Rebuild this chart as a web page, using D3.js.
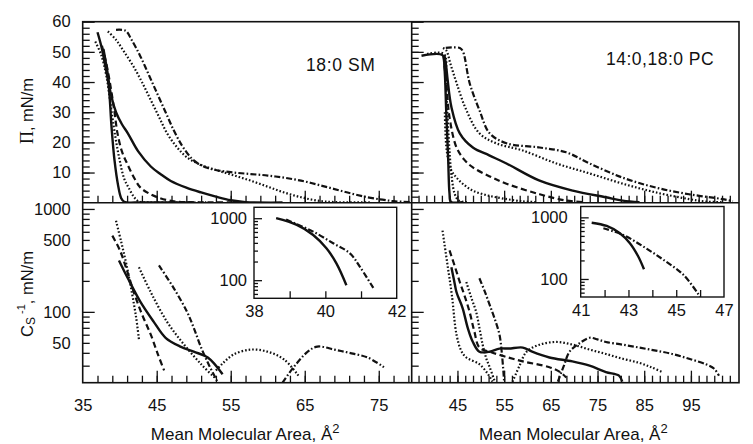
<!DOCTYPE html>
<html>
<head>
<meta charset="utf-8">
<script src="https://cdn.jsdelivr.net/npm/d3@7"></script>
<style>
body { margin: 0; background: #fff; }
svg text { font-family: "Liberation Sans", Arial, sans-serif; fill: #111; }
</style>
</head>
<body>
<script>
// ---- Pi-A isotherms, [area (A^2), Pi (mN/m)] ----
// 18:0 SM
var smSolidSteep = [[37.0,56.5],[37.5,52],[38.0,46],[38.5,39],[38.9,25],[39.3,14],[39.8,5.5],[40.2,1.5],[40.6,0.3],[43,0.1],[50,0.1]];
var smDotSteep = [[36.7,53.4],[37.5,49],[38.2,42],[38.8,32],[39.4,22],[40,14],[40.6,8],[41.2,5],[41.9,2],[42.5,0.5],[44,0.1],[52,0.1]];
var smDashed = [[37.6,52],[38.2,46],[38.8,38],[39.3,30],[39.7,23],[40.3,17],[41,13],[42,8],[42.8,5],[44,3],[45.1,1.8],[46.5,0.8],[48,0.3],[55,0.1]];
var smSolid = [[37.8,51],[38.3,44],[38.8,36],[39.5,30],[40.3,26],[41.1,23],[42.5,17],[44.2,12],[45.5,9.5],[46.9,7.2],[49,5],[51,3.4],[53,2],[55,0.8],[57,0.2],[62,0.05]];
var smDotted = [[38.4,56.8],[39.5,54],[40.6,50],[41.9,45],[43,40],[44.2,34],[45.3,28.5],[46.4,23],[47.7,18.5],[49.1,15],[51,12.5],[53.2,10.7],[55.5,9],[57.7,7.3],[60,5.3],[62.2,3.4],[64.5,1.8],[66.7,0.7],[69,0.2],[74,0.1]];
var smDashDot = [[39.5,57.3],[40.8,57],[41.6,54],[42.8,48.5],[44,42],[45.1,36],[46.2,30],[47.3,24],[48.4,19],[49.6,15],[50.7,12.8],[51.9,11.5],[53.5,10.6],[55.4,10],[57.7,9.5],[60,9],[62.2,8.3],[64.5,7.3],[66.7,6],[68.9,4.6],[71.2,3.1],[73.5,1.8],[75.5,1],[77,0.5],[79.4,0.2]];

// 14:0,18:0 PC
var pcSolidSteep = [[37.3,48.7],[41.8,48.9],[42.2,45],[42.6,30],[43,15],[43.3,3],[43.6,0.3],[46,0.2]];
var pcDotSteep = [[38.5,49.3],[42.1,49.3],[42.5,40],[42.9,28],[43.3,17],[43.8,8],[44.4,3],[45.2,0.8],[47,0.2]];
var pcDotLow = [[42.3,30],[42.7,17.3],[43.6,11],[44.8,8.3],[46.5,5.8],[48.3,4],[50.5,2.8],[53.3,1.8],[58.7,0.5],[62,0.2]];
var pcDashed = [[42,48.5],[42.6,40],[43.3,28.3],[44.8,18.3],[46.5,14.2],[48.3,11.7],[51.8,8.8],[55.5,6.3],[62.6,2.8],[68.3,0.7],[72,0.2]];
var pcSolid = [[42.2,49],[42.6,45],[42.9,40.7],[43.7,31.7],[45.5,23],[48.3,18.3],[51.8,15.7],[55.5,13],[62.6,7.3],[69.7,4],[76.8,1.8],[80.4,0.7],[84,0.2]];
var pcDotted = [[41.9,51.3],[42.6,50.5],[43.5,46],[44.8,39.7],[46.9,30.7],[49.7,23],[53.3,19.7],[59,17.3],[66.2,13],[73.3,9.7],[80.4,6.3],[87.5,3.4],[94.6,1.2],[98,0.4],[102,0.2]];
var pcDashDot = [[42.5,51.3],[45.5,51.3],[46.2,50],[47.6,39.7],[49.7,30.7],[51.9,23],[55.5,19.7],[62.6,18.3],[68.3,16.7],[73.3,13],[80.4,8.3],[87.5,5],[94.6,2.8],[101.7,1.2],[104,0.5]];

// ---- compressibility modulus Cs^-1 (mN/m) ----
var smCsDotSteep = [[39.5,767],[40.2,480],[40.9,290],[41.6,160],[42.2,90],[42.6,54]];
var smCsDashed = [[39,550],[40,400],[41,250],[41.9,155],[43,95],[44.2,60],[45.2,38],[46,27]];
var smCsSolid = [[39.9,316],[41.1,212],[42.8,125],[44.6,80],[46.2,56],[48.2,46],[50,41],[51.9,36],[53.9,24.8]];
var smCsDotted = [[42.6,271],[44.2,155],[46.4,80],[48.7,48],[51,31],[52.8,23]];
var smCsDashDot = [[45.3,283],[47.3,170],[49.1,100],[50,70],[51,45],[52.1,30],[53.2,21]];
var smCsDotHump = [[53,27],[54,32],[55.4,38.6],[57.7,43],[60,41],[62.2,34.5],[64.2,23.7]];
var smCsDashDotHump = [[62,20.5],[63.5,29],[65.4,41],[66.7,46],[69,43],[71,40],[73.5,36],[75.7,29]];

var pcCsDotSteep = [[41.8,615],[42.8,300],[43.8,146],[44.8,60],[45.8,42],[46.9,36],[49.7,31],[51.5,25],[52.5,21]];
var pcCsDashed = [[43.3,395],[44.4,280],[45.5,195],[46.6,140],[47.6,100],[48.6,65],[49.7,45],[51.9,41],[55,37],[59,33],[64.7,29],[67,26],[68.3,23]];
var pcCsSolid = [[43.7,271],[44.3,200],[44.8,155],[46.1,109],[47.2,70],[48.3,51],[49.7,41],[51.9,41],[54,44],[56,44],[59,45],[61,41],[64.7,36],[69.6,33],[73.3,30],[76.8,26],[79.6,24],[80.3,21]];
var pcCsDotted = [[46.9,195],[47.9,140],[49,100],[49.7,70],[50.4,48],[51.2,35],[51.9,29],[53,21]];
var pcCsDashDot = [[49.7,212],[50.8,160],[51.9,117],[53,85],[54,60],[54.5,40],[55,21]];
var pcCsDotHump = [[56.8,21],[58.3,30],[59.8,41],[62.6,48],[66.2,51],[69.7,48],[73.3,43],[76.8,39],[80.4,35],[83.9,32],[86.5,29],[88.9,26]];
var pcCsDashDotHump = [[66.5,21],[67.8,30],[69,41],[71,49],[73.3,56],[75,54],[76.8,51],[80.4,48],[83.9,45],[87.5,42],[91,39],[94.6,35],[98.2,31],[100,28],[101,24]];

// insets (high-pressure region)
var smInsetSolid = [[38.62,1000],[39.2,780],[39.66,537],[40.03,327],[40.31,187],[40.59,83]];
var smInsetDashDot = [[38.9,950],[39.14,830],[39.66,607],[40.22,394],[40.69,271],[40.97,164],[41.35,74]];
var pcInsetSolid = [[41.46,819],[42.09,724],[42.64,552],[43.06,381],[43.41,232],[43.65,144]];
var pcInsetDashDot = [[41.95,665],[42.78,518],[43.62,336],[44.46,205],[45.3,117],[45.99,52]];

// tick labels
var piLabels = [10, 20, 30, 40, 50, 60];
var csLabels = [50, 100, 500, 1000];
var smAreaLabels = [35, 45, 55, 65, 75];
var pcAreaLabels = [45, 55, 65, 75, 85, 95];
var insetCsLabels = [100, 1000];
var smInsetAreaLabels = [38, 40, 42];
var pcInsetAreaLabels = [41, 43, 45, 47];

// ---- layout ----
var W = 753, H = 444;
var L = 82.7, M = 411.7, R = 739, T = 21.7, MID = 202.7, B = 382.7;

var svg = d3.select("body").append("svg").attr("width", W).attr("height", H);
svg.append("rect").attr("width", W).attr("height", H).attr("fill", "#fff");

var xSM = d3.scaleLinear().domain([35, 79.45]).range([L, M]);
var xPC = d3.scaleLinear().domain([35.2, 105.3]).range([M, R]);
var yPi = d3.scaleLinear().domain([0, 60]).range([MID, T]);
var yCs = d3.scaleLog().domain([20.5, 1150]).range([B, MID]);

var dashes = { solid: null, dotted: "1.6,2", dashed: "6,3.5", dashdot: "6,2.2,1.6,2.2" };

var clipN = 0;
function clipRect(x0, y0, x1, y1) {
    var id = "clip" + (clipN++);
    svg.append("clipPath").attr("id", id)
        .append("rect").attr("x", x0).attr("y", y0).attr("width", x1 - x0).attr("height", y1 - y0);
    return "url(#" + id + ")";
}

function drawCurves(x, y, series, clip) {
    var g = svg.append("g").attr("clip-path", clip);
    var line = d3.line()
        .x(function(d) { return x(d[0]); })
        .y(function(d) { return y(d[1]); })
        .curve(d3.curveCatmullRom.alpha(0.5));
    series.forEach(function(s) {
        g.append("path")
            .attr("d", line(s[0]))
            .attr("fill", "none")
            .attr("stroke", "#111")
            .attr("stroke-width", s[1] == "solid" ? 2.4 : 2.2)
            .attr("stroke-dasharray", dashes[s[1]]);
    });
}

// inward tick marks, no labels
function ticks(axisFn, scale, vals, len, tx, ty) {
    var g = svg.append("g")
        .attr("transform", "translate(" + tx + "," + ty + ")")
        .call(axisFn(scale).tickValues(vals).tickSize(len).tickFormat(""));
    g.select(".domain").remove();
    g.selectAll("line").attr("stroke", "#111").attr("stroke-width", 1.3);
}

function labels(axisFn, scale, vals, pad, tx, ty) {
    var g = svg.append("g")
        .attr("transform", "translate(" + tx + "," + ty + ")")
        .call(axisFn(scale).tickValues(vals).tickSize(0).tickPadding(pad).tickFormat(d3.format("d")));
    g.select(".domain").remove();
    g.selectAll("text").attr("font-size", 16.5).attr("font-family", "Liberation Sans, Arial, sans-serif").attr("fill", "#111");
}

// ---- curves ----
drawCurves(xSM, yPi, [
    [smSolidSteep, "solid"], [smDotSteep, "dotted"], [smDashed, "dashed"],
    [smSolid, "solid"], [smDotted, "dotted"], [smDashDot, "dashdot"]
], clipRect(L, T, M, MID));
drawCurves(xPC, yPi, [
    [pcSolidSteep, "solid"], [pcDotSteep, "dotted"], [pcDotLow, "dotted"], [pcDashed, "dashed"],
    [pcSolid, "solid"], [pcDotted, "dotted"], [pcDashDot, "dashdot"]
], clipRect(M, T, R, MID));
drawCurves(xSM, yCs, [
    [smCsDotSteep, "dotted"], [smCsDashed, "dashed"], [smCsSolid, "solid"], [smCsDotted, "dotted"],
    [smCsDashDot, "dashdot"], [smCsDotHump, "dotted"], [smCsDashDotHump, "dashdot"]
], clipRect(L, MID, M, B));
drawCurves(xPC, yCs, [
    [pcCsDotSteep, "dotted"], [pcCsDashed, "dashed"], [pcCsSolid, "solid"], [pcCsDotted, "dotted"],
    [pcCsDashDot, "dashdot"], [pcCsDotHump, "dotted"], [pcCsDashDotHump, "dashdot"]
], clipRect(M, MID, R, B));

// ---- main ticks ----
var smMinor = d3.range(37, 79.4, 2), smMajor = [45, 55, 65, 75];
var pcMinor = d3.range(0, 42).map(function(i) { return 35 + i * 10 / 6; }).filter(function(v) { return v > 35.5 && v < 105; });
var pcMajor = [45, 55, 65, 75, 85, 95];
var piMinor = d3.range(2, 60, 2), piMajor = [10, 20, 30, 40, 50, 60];
var csMinor = [30, 40, 50, 60, 70, 80, 90, 200, 300, 400, 500, 600, 700, 800, 900], csMajor = [100, 1000];

[MID, B].forEach(function(yy) {
    ticks(d3.axisTop, xSM, smMinor, 7, 0, yy);
    ticks(d3.axisTop, xSM, smMajor, 12, 0, yy);
    ticks(d3.axisTop, xPC, pcMinor, 7, 0, yy);
    ticks(d3.axisTop, xPC, pcMajor, 12, 0, yy);
});
[L, M].forEach(function(xx) {
    ticks(d3.axisRight, yPi, piMinor, 7, xx, 0);
    ticks(d3.axisRight, yPi, piMajor, 12, xx, 0);
    ticks(d3.axisRight, yCs, csMinor, 7, xx, 0);
    ticks(d3.axisRight, yCs, csMajor, 12, xx, 0);
});

// frame
svg.append("rect").attr("x", L).attr("y", T).attr("width", R - L).attr("height", B - T)
    .attr("fill", "none").attr("stroke", "#111").attr("stroke-width", 1.6);
svg.append("line").attr("x1", M).attr("x2", M).attr("y1", T).attr("y2", B).attr("stroke", "#111").attr("stroke-width", 1.6);
svg.append("line").attr("x1", L).attr("x2", R).attr("y1", MID).attr("y2", MID).attr("stroke", "#111").attr("stroke-width", 1.6);

// main labels
labels(d3.axisLeft, yPi, piLabels, 12, L, 0);
labels(d3.axisLeft, yCs, csLabels, 12, L, 0);
labels(d3.axisBottom, xSM, smAreaLabels, 17, 0, B);
labels(d3.axisBottom, xPC, pcAreaLabels, 17, 0, B);

// ---- insets ----
function inset(x0, x1, y0, y1, xDom, xTicks, xLabels, series, yPad) {
    var x = d3.scaleLinear().domain(xDom).range([x0, x1]);
    var y = d3.scaleLog().domain([51, 1500]).range([y1, y0]);
    svg.append("rect").attr("x", x0).attr("y", y0).attr("width", x1 - x0).attr("height", y1 - y0)
        .attr("fill", "#fff");
    drawCurves(x, y, series, clipRect(x0, y0, x1, y1));
    ticks(d3.axisTop, x, xTicks, 7, 0, y1);
    ticks(d3.axisRight, y, [60, 70, 80, 90, 200, 300, 400, 500, 600, 700, 800, 900], 4, x0, 0);
    ticks(d3.axisRight, y, [100, 1000], 8, x0, 0);
    svg.append("rect").attr("x", x0).attr("y", y0).attr("width", x1 - x0).attr("height", y1 - y0)
        .attr("fill", "none").attr("stroke", "#111").attr("stroke-width", 1.4);
    labels(d3.axisLeft, y, insetCsLabels, yPad, x0, 0);
    labels(d3.axisBottom, x, xLabels, 7, 0, y1);
}
inset(254, 396.7, 207.3, 298.3, [38, 42], [39, 40, 41], smInsetAreaLabels,
    [[smInsetSolid, "solid"], [smInsetDashDot, "dashdot"]], 7);
inset(580.7, 724, 206.5, 297, [41, 47], [42, 43, 44, 45, 46], pcInsetAreaLabels,
    [[pcInsetSolid, "solid"], [pcInsetDashDot, "dashdot"]], 13);

// ---- titles ----
svg.append("text").attr("x", 306).attr("y", 70.5).attr("font-size", 17.5).attr("letter-spacing", 0.6).text("18:0 SM");
svg.append("text").attr("x", 606).attr("y", 65).attr("font-size", 17.5).attr("letter-spacing", 0.5).text("14:0,18:0 PC");

[(L + M) / 2, (M + R) / 2].forEach(function(cx) {
    var t = svg.append("text").attr("x", cx - 2).attr("y", 440).attr("font-size", 17).attr("text-anchor", "middle");
    t.append("tspan").text("Mean Molecular Area, \u00C5");
    t.append("tspan").attr("font-size", 13).attr("dy", -7).text("2");
});

var piT = svg.append("text").attr("transform", "translate(33,111) rotate(-90)")
    .attr("font-size", 16.5).attr("text-anchor", "middle");
piT.append("tspan").attr("font-family", "Liberation Serif, Times New Roman, serif").attr("font-size", 18).text("\u03A0");
piT.append("tspan").text(", mN/m");

var csT = svg.append("text").attr("transform", "translate(33,294) rotate(-90)")
    .attr("font-size", 16.5).attr("text-anchor", "middle");
csT.append("tspan").text("C");
csT.append("tspan").attr("font-size", 12).attr("dy", 2).text("S");
csT.append("tspan").attr("font-size", 11).attr("dy", -10).text(" -1");
csT.append("tspan").attr("dy", 8).text(", mN/m");
</script>
</body>
</html>
